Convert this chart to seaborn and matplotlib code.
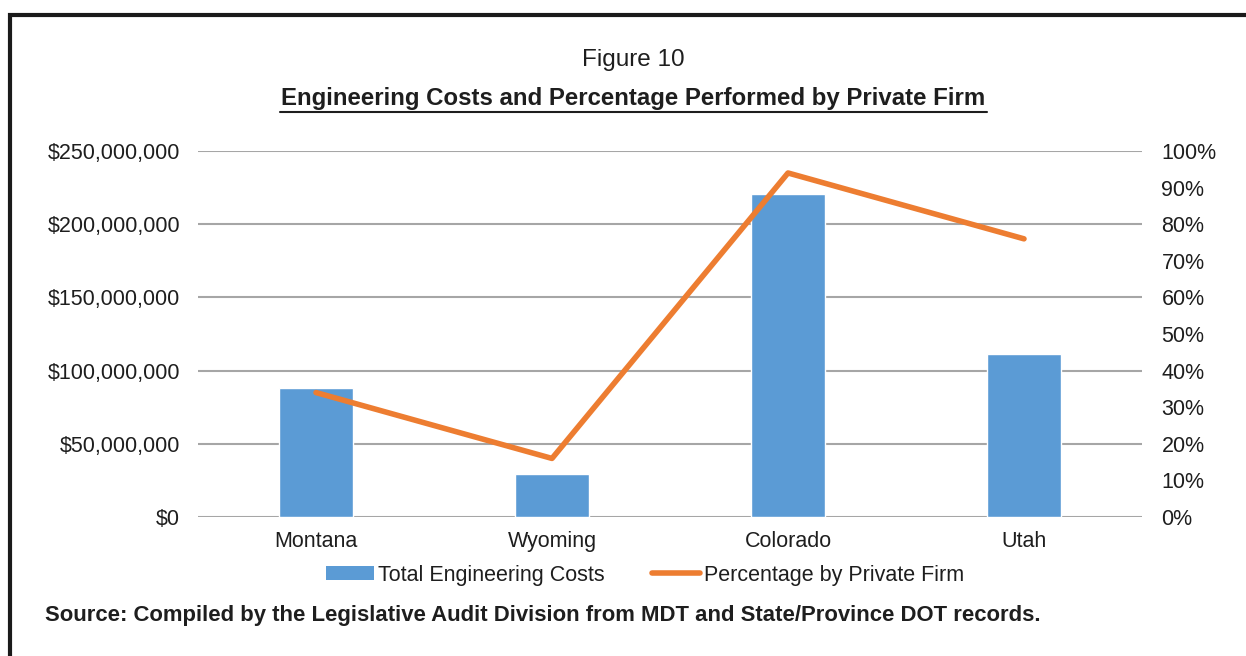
import numpy as np
import pandas as pd
import matplotlib
matplotlib.use("Agg")
import matplotlib.pyplot as plt
import matplotlib.ticker as mticker
from matplotlib.patches import Rectangle, Patch
from matplotlib.lines import Line2D
import seaborn as sns

# data
states = ["Montana", "Wyoming", "Colorado", "Utah"]
total_costs = [88_000_000, 29_500_000, 220_500_000, 111_000_000]
pct_private = [34, 16, 94, 76]

bar_color = "#5B9BD5"
line_color = "#ED7D31"
grid_color = "#A6A6A6"
text_color = "#1E1E1E"

sns.set_style("white")
plt.rcParams["font.family"] = ["Liberation Sans", "DejaVu Sans"]

df = pd.DataFrame({"state": states, "cost": total_costs, "pct": pct_private})

fig = plt.figure(figsize=(12.46, 6.56), dpi=100)
ax = fig.add_axes([198 / 1246, 1 - 517 / 656, 944 / 1246, 366 / 656])

sns.barplot(data=df, x="state", y="cost", color=bar_color, width=0.31,
            saturation=1, ax=ax, zorder=2)
ax.set_ylim(0, 250_000_000)
ax.set_yticks(np.arange(0, 250_000_001, 50_000_000))
ax.yaxis.set_major_formatter(mticker.FuncFormatter(lambda v, p: f"${v:,.0f}"))
ax.grid(axis="y", color=grid_color, linewidth=1.5, zorder=0)
ax.set_axisbelow(True)
ax.set_xlabel("")
ax.set_ylabel("")
for s in ax.spines.values():
    s.set_visible(False)
ax.tick_params(axis="both", length=0, labelsize=15.5, labelcolor=text_color)
ax.tick_params(axis="y", pad=13)
ax.tick_params(axis="x", pad=10)

ax2 = ax.twinx()
sns.lineplot(x=np.arange(len(states)), y=df["pct"], color=line_color,
             linewidth=4, ax=ax2, zorder=3)
ax2.set_ylim(0, 100)
ax2.set_yticks(np.arange(0, 101, 10))
ax2.yaxis.set_major_formatter(mticker.FuncFormatter(lambda v, p: f"{v:.0f}%"))
ax2.set_ylabel("")
for s in ax2.spines.values():
    s.set_visible(False)
ax2.tick_params(axis="y", length=0, labelsize=15.5, labelcolor=text_color, pad=14)
ax.set_xlim(-0.5, len(states) - 0.5)

# titles
fig.text(633 / 1246, 1 - 60 / 656, "Figure 10", ha="center", va="center",
         fontsize=17.5, color=text_color)
fig.text(633 / 1246, 1 - 99 / 656,
         "Engineering Costs and Percentage Performed by Private Firm",
         ha="center", va="center", fontsize=17.3, fontweight="bold",
         color=text_color)
fig.lines.append(Line2D([280 / 1246, 987 / 1246], [1 - 112 / 656, 1 - 112 / 656],
                        transform=fig.transFigure, color=text_color, linewidth=1.5))

# legend
handles = [Patch(facecolor=bar_color, edgecolor="none"),
           Line2D([], [], color=line_color, linewidth=4)]
fig.legend(handles, ["Total Engineering Costs", "Percentage by Private Firm"],
           loc="center", bbox_to_anchor=(645 / 1246, 1 - 575 / 656), ncol=2,
           frameon=False, fontsize=15.5, handlelength=2.23, handleheight=0.6,
           handletextpad=0.2, columnspacing=2.2, labelcolor=text_color)

fig.text(45 / 1246, 1 - 615 / 656,
         "Source: Compiled by the Legislative Audit Division from MDT and State/Province DOT records.",
         ha="left", va="center", fontsize=15.9, fontweight="bold",
         color=text_color)

# outer frame
fig.patches.append(Rectangle((10 / 1246, -0.1), 1.2, 1.1 - 15 / 656,
                             transform=fig.transFigure, fill=False,
                             edgecolor="#1a1a1a", linewidth=3))

fig.savefig("out.png", dpi=100)
